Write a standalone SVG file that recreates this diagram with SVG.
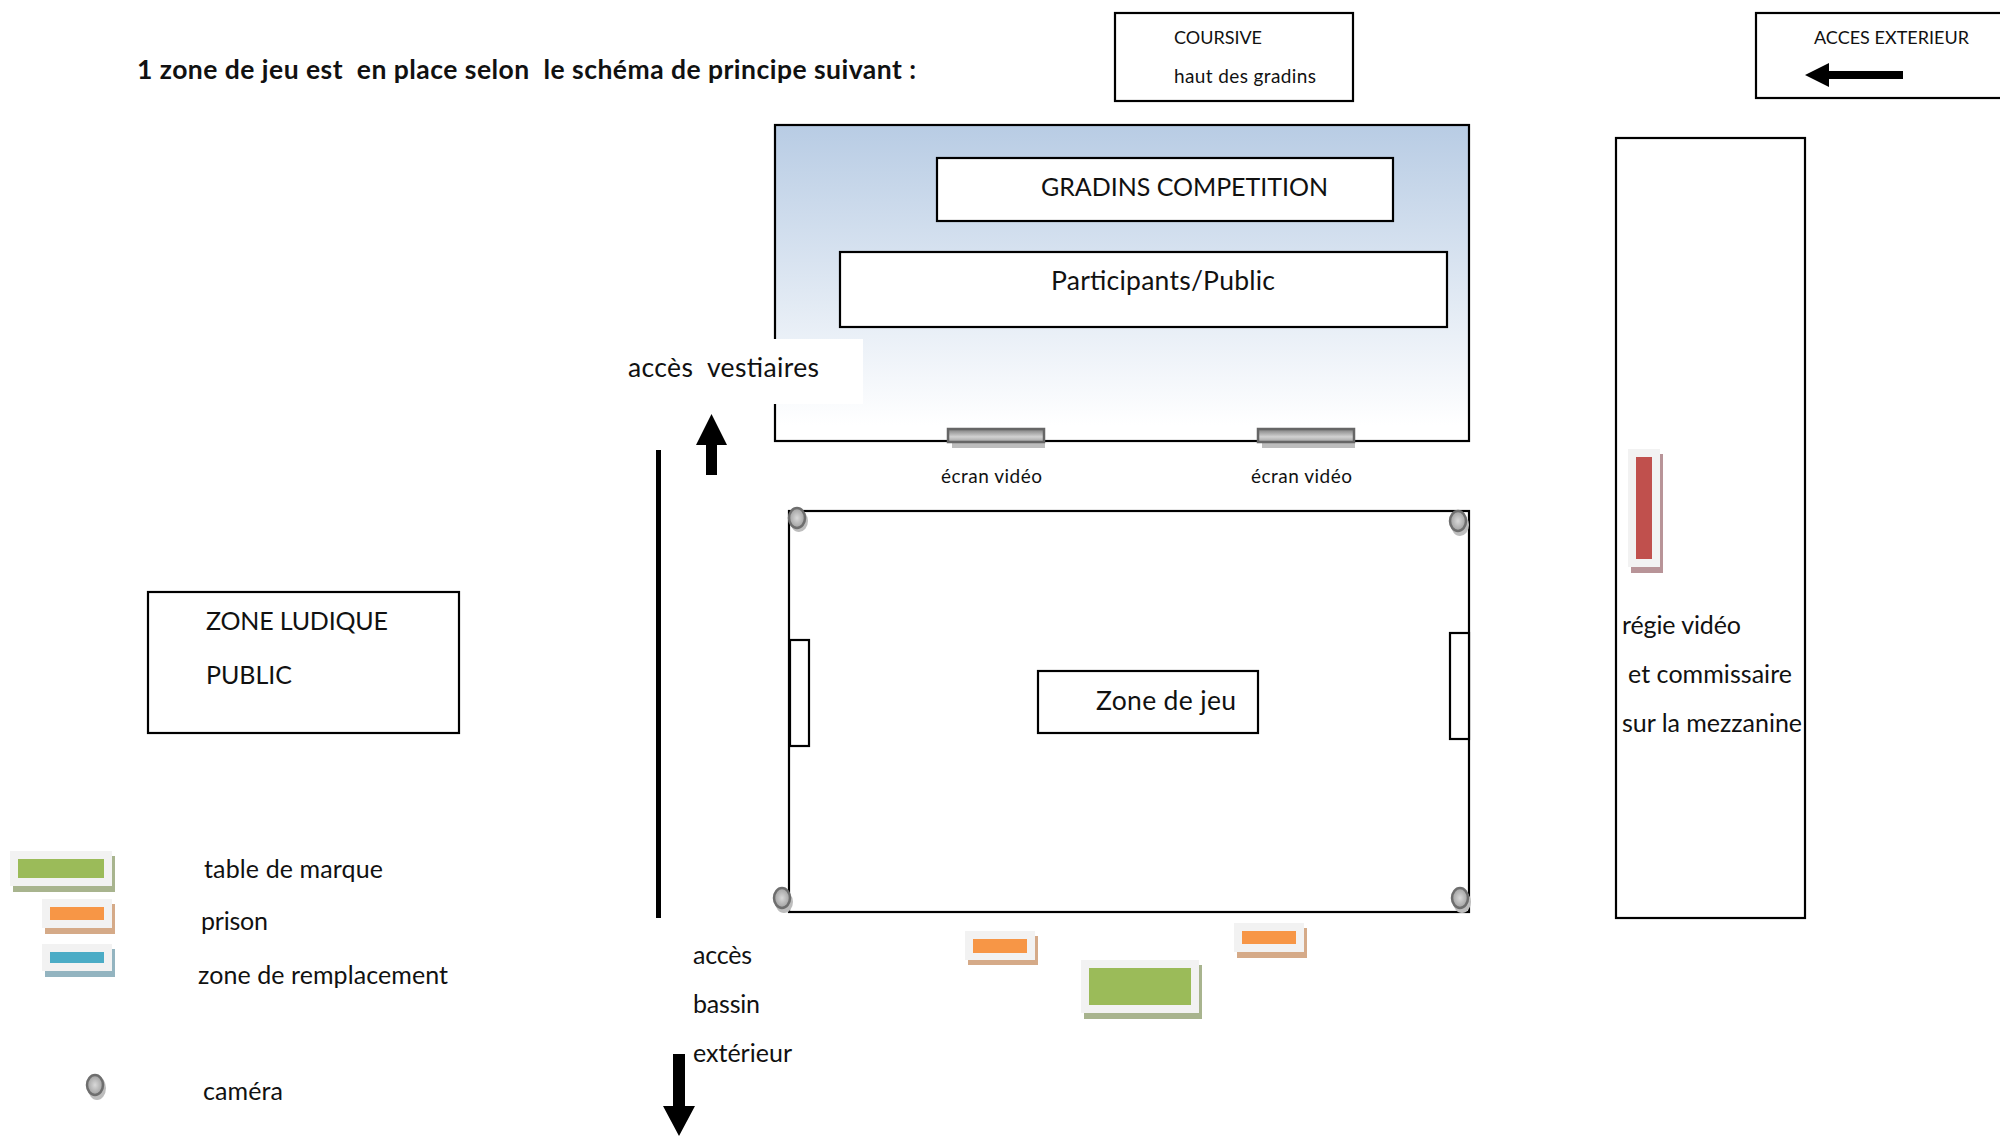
<svg xmlns="http://www.w3.org/2000/svg" width="2000" height="1136" viewBox="0 0 2000 1136">
<style>
text{font-family:"Lato","Open Sans","Liberation Sans",sans-serif;fill:#111;white-space:pre}
.frame{fill:#fff;stroke:#000;stroke-width:2.2}
.halo{fill:#f2f2f2}
.t20{font-size:19px}.t18{font-size:18px}.t26{font-size:25px}.t28{font-size:26.5px}
.title{font-size:26.5px;font-weight:700}
.cam{fill:url(#camFill);stroke:#6e6e6e;stroke-width:2.5}
.camS{fill:#bdbdbd}
.scr{fill:url(#scrFill);stroke:#666;stroke-width:2.5}
</style>
<defs>
<linearGradient id="sky" x1="0" y1="0" x2="0" y2="1"><stop offset="0" stop-color="#b8cce4"/><stop offset="0.95" stop-color="#fff"/></linearGradient>
<radialGradient id="camFill"><stop offset="0" stop-color="#d9d9d9"/><stop offset="1" stop-color="#a0a0a0"/></radialGradient>
<linearGradient id="scrFill" x1="0" y1="0" x2="0" y2="1"><stop offset="0" stop-color="#7c7c7c"/><stop offset="0.6" stop-color="#d2d2d2"/><stop offset="1" stop-color="#a0a0a0"/></linearGradient>
</defs>

<text id="titre" class="title" x="137" y="79" textLength="779" lengthAdjust="spacing">1 zone de jeu est  en place selon  le schéma de principe suivant :</text>

<g id="coursive"><rect class="frame" x="1115" y="13" width="238" height="88"/>
<text class="t18" x="1174" y="44" textLength="88">COURSIVE</text>
<text class="t20" x="1174" y="83" textLength="142">haut des gradins</text></g>

<g id="acces-exterieur"><rect class="frame" x="1756" y="13" width="260" height="85"/>
<text class="t18" x="1814" y="44" textLength="155">ACCES EXTERIEUR</text></g>

<g id="gradins-fond"><rect x="775" y="125" width="694" height="316" fill="url(#sky)" stroke="#000" stroke-width="2.2"/></g>
<g id="gradins-competition"><rect class="frame" x="937" y="158" width="456" height="63"/>
<text class="t26" x="1041" y="196" textLength="287">GRADINS COMPETITION</text></g>
<g id="participants"><rect class="frame" x="840" y="252" width="607" height="75"/>
<text class="t28" x="1051" y="290" textLength="224">Participants/Public</text></g>
<g id="acces-vestiaires"><rect x="612" y="339" width="251" height="65" fill="#fff"/>
<text class="t28" x="628" y="377" textLength="191">accès  vestiaires</text></g>

<g id="ecran-1"><rect class="camS" x="952" y="436" width="93" height="12"/><rect class="scr" x="948" y="429" width="96" height="13"/>
<text class="t20" x="941" y="483" textLength="101">écran vidéo</text></g>
<g id="ecran-2"><rect class="camS" x="1262" y="436" width="93" height="12"/><rect class="scr" x="1258" y="429" width="96" height="13"/>
<text class="t20" x="1251" y="483" textLength="101">écran vidéo</text></g>

<g id="zone-de-jeu-terrain"><rect class="frame" x="789" y="511" width="680" height="401"/>
<rect class="frame" x="790" y="640" width="19" height="106"/>
<rect class="frame" x="1450" y="633" width="19" height="106"/></g>
<g id="zone-de-jeu"><rect class="frame" x="1038" y="671" width="220" height="62"/>
<text class="t28" x="1096" y="710" textLength="140">Zone de jeu</text></g>

<g id="camera-1"><ellipse class="camS" cx="799" cy="521" rx="9" ry="11"/><ellipse class="cam" cx="797" cy="518" rx="8" ry="10"/></g>
<g id="camera-2"><ellipse class="camS" cx="1460" cy="525" rx="9" ry="11"/><ellipse class="cam" cx="1458" cy="521" rx="8" ry="10"/></g>
<g id="camera-3"><ellipse class="camS" cx="784" cy="902" rx="9" ry="11"/><ellipse class="cam" cx="782" cy="898" rx="8" ry="10"/></g>
<g id="camera-4"><ellipse class="camS" cx="1462" cy="902" rx="9" ry="11"/><ellipse class="cam" cx="1460" cy="898" rx="8" ry="10"/></g>

<g id="prison-1"><rect x="968" y="936" width="70" height="29" fill="#d5aa88"/><rect class="halo" x="965" y="931" width="70" height="29"/><rect x="973" y="939" width="54" height="14" fill="#f79646"/></g>
<g id="prison-2"><rect x="1237" y="928" width="70" height="30" fill="#d5aa88"/><rect class="halo" x="1234" y="923" width="70" height="29"/><rect x="1242" y="931" width="54" height="13" fill="#f79646"/></g>
<g id="table-marque"><rect x="1084" y="965" width="118" height="54" fill="#a8b48e"/><rect class="halo" x="1081" y="960" width="118" height="53"/><rect x="1089" y="968" width="102" height="37" fill="#9bbb59"/></g>

<g id="regie"><rect class="frame" x="1616" y="138" width="189" height="780"/>
<rect x="1631" y="454" width="32" height="119" fill="#b89498"/><rect class="halo" x="1628" y="449" width="32" height="118"/><rect x="1636" y="457" width="16" height="102" fill="#c0504d"/>
<text class="t26" x="1622" y="634" textLength="119">régie vidéo</text>
<text class="t26" x="1628" y="683" textLength="164">et commissaire</text>
<text class="t26" x="1622" y="732" textLength="180">sur la mezzanine</text></g>

<g id="zone-ludique"><rect class="frame" x="148" y="592" width="311" height="141"/>
<text class="t26" x="206" y="630" textLength="182">ZONE LUDIQUE</text>
<text class="t26" x="206" y="684" textLength="86">PUBLIC</text></g>

<g id="legende-table"><rect x="13" y="856" width="102" height="36" fill="#a8b48e"/><rect class="halo" x="10" y="851" width="102" height="35"/><rect x="18" y="859" width="86" height="19" fill="#9bbb59"/>
<text class="t26" x="204" y="878" textLength="179">table de marque</text></g>
<g id="legende-prison"><rect x="45" y="904" width="70" height="30" fill="#d5aa88"/><rect class="halo" x="42" y="899" width="70" height="29"/><rect x="50" y="907" width="54" height="13" fill="#f79646"/>
<text class="t26" x="201" y="930" textLength="67">prison</text></g>
<g id="legende-remplacement"><rect x="45" y="949" width="70" height="28" fill="#93b4c0"/><rect class="halo" x="42" y="944" width="70" height="27"/><rect x="50" y="952" width="54" height="11" fill="#4bacc6"/>
<text class="t26" x="198" y="984" textLength="250">zone de remplacement</text></g>
<g id="legende-camera"><ellipse class="camS" cx="97" cy="1088" rx="9" ry="12"/><ellipse class="cam" cx="95" cy="1085" rx="8" ry="10"/>
<text class="t26" x="203" y="1100" textLength="80">caméra</text></g>

<g id="acces-bassin"><text class="t26" x="693" y="964" textLength="59">accès</text>
<text class="t26" x="693" y="1013" textLength="67">bassin</text>
<text class="t26" x="693" y="1062" textLength="99">extérieur</text></g>

<g id="connectors" fill="#000">
<rect x="656" y="450" width="5" height="468"/>
<path d="M711.5 414L727 445H717V475H706V445H696Z"/>
<path d="M673 1054H685V1106H695L679 1136L663 1106H673Z"/>
<path d="M1805 75L1829 63V71H1903V79H1829V87Z"/>
</g>
</svg>
